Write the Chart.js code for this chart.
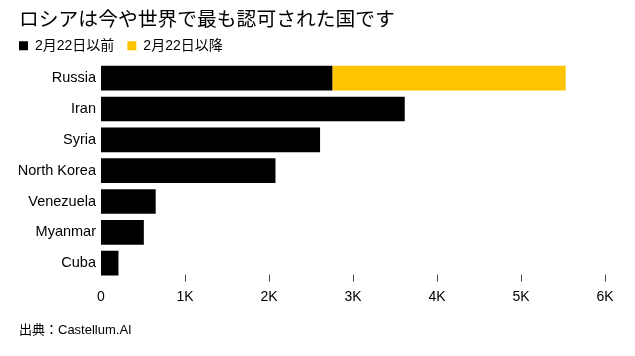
<!DOCTYPE html>
<html>
<head>
<meta charset="utf-8">
<script src="https://cdn.jsdelivr.net/npm/chart.js@4/dist/chart.umd.min.js"></script>
<style>
  html, body { margin: 0; padding: 0; background: #fff; }
  #wrap { position: relative; width: 635px; height: 356px; }
</style>
</head>
<body>
<div id="wrap"><canvas id="c" width="635" height="356"></canvas></div>
<script>
const titleText = 'ロシアは今や世界で最も認可された国です';
const sourceText = '出典：Castellum.AI';
const seriesNames = ['2月22日以前', '2月22日以降'];
const categories = ['Russia', 'Iran', 'Syria', 'North Korea', 'Venezuela', 'Myanmar', 'Cuba'];
const beforeValues = [2754, 3616, 2608, 2077, 651, 510, 208];
const afterValues = [2778, 0, 0, 0, 0, 0, 0];
const xTickValues = [0, 1000, 2000, 3000, 4000, 5000, 6000];
const xTickLabels = ['0', '1K', '2K', '3K', '4K', '5K', '6K'];

const FONT = "'Liberation Sans', 'Noto Sans CJK JP', Arial, sans-serif";
const LEGEND_FIT_PAD = 6;
const LEGEND_GAP = 13;

const tickMarks = {
  id: 'tickMarks',
  afterDraw(chart) {
    const x = chart.scales.x;
    const area = chart.chartArea;
    const ctx = chart.ctx;
    ctx.save();
    ctx.strokeStyle = '#444';
    ctx.lineWidth = 1;
    xTickValues.forEach(v => {
      if (v === 0) return;
      const px = Math.round(x.getPixelForValue(v)) + 0.5;
      ctx.beginPath();
      ctx.moveTo(px, area.bottom - 4);
      ctx.lineTo(px, area.bottom + 3);
      ctx.stroke();
    });
    ctx.restore();
  }
};

const legendShift = {
  id: 'legendShift',
  afterLayout(chart) {
    const lg = chart.legend;
    if (!lg) return;
    let pad = LEGEND_FIT_PAD;
    try {
      lg.options.labels.padding = LEGEND_GAP;
      pad = lg.options.labels.padding;
    } catch (e) {}
    lg.left -= pad;
    lg.right -= pad;
    lg.top -= (pad - LEGEND_FIT_PAD);
    lg.bottom -= (pad - LEGEND_FIT_PAD);
  }
};

new Chart(document.getElementById('c'), {
  type: 'bar',
  data: {
    labels: categories,
    datasets: [
      { label: seriesNames[0], data: beforeValues, backgroundColor: '#000000', borderWidth: 0 },
      { label: seriesNames[1], data: afterValues, backgroundColor: '#FFC400', borderWidth: 0 }
    ]
  },
  options: {
    indexAxis: 'y',
    responsive: false,
    animation: false,
    devicePixelRatio: 1,
    layout: { padding: { top: 9, left: 19, right: 30, bottom: 18 } },
    datasets: { bar: { barPercentage: 0.8, categoryPercentage: 1.0 } },
    scales: {
      x: {
        stacked: true,
        min: 0, max: 6000,
        afterBuildTicks(scale) { scale.ticks = xTickValues.map(v => ({ value: v })); },
        grid: { display: false, drawTicks: false },
        border: { display: false },
        ticks: {
          padding: 10,
          color: '#000',
          font: { family: FONT, size: 14 },
          callback(v, i) { return xTickLabels[i]; }
        }
      },
      y: {
        stacked: true,
        grid: { display: false, drawTicks: false },
        border: { display: false },
        afterFit(scale) { scale.width = 82; },
        ticks: {
          padding: 5,
          color: '#000',
          font: { family: FONT, size: 14.5 }
        }
      }
    },
    plugins: {
      title: {
        display: true,
        text: titleText,
        align: 'start',
        color: '#000',
        font: { family: FONT, size: 19.8, weight: 'normal' },
        padding: { top: 0, bottom: 0 }
      },
      legend: {
        display: true,
        position: 'top',
        align: 'start',
        labels: {
          color: '#000',
          font: { family: FONT, size: 14 },
          boxWidth: 9,
          boxHeight: 9,
          padding: LEGEND_FIT_PAD,
          useBorderRadius: false
        }
      },
      subtitle: {
        display: true,
        text: sourceText,
        position: 'bottom',
        align: 'start',
        color: '#000',
        font: { family: FONT, size: 13, weight: 'normal' },
        padding: { top: 7, bottom: 0 }
      },
      tooltip: { enabled: false }
    }
  },
  plugins: [tickMarks, legendShift]
});
</script>
</body>
</html>
